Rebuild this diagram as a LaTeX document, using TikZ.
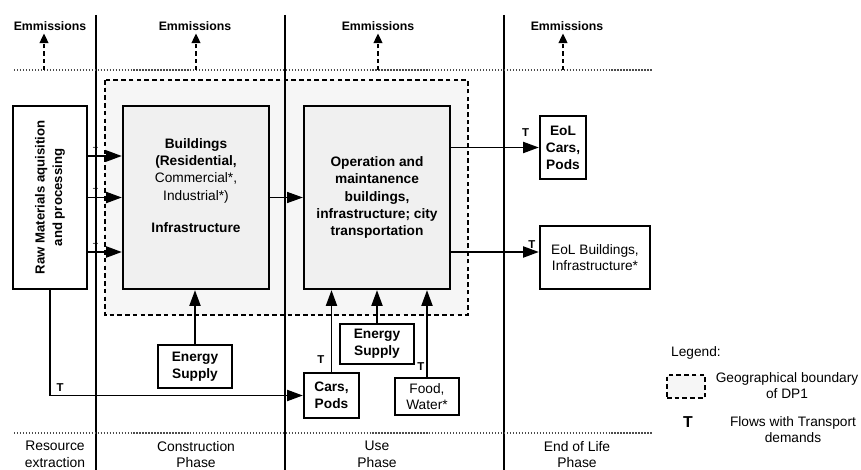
\documentclass[tikz,border=0pt]{standalone}
\usepackage{fontspec}
\setmainfont{Liberation Sans}
\usetikzlibrary{arrows.meta}

\begin{document}
\begin{tikzpicture}[x=0.2mm,y=-0.2mm,
        box/.style={draw,line width=1.3pt,align=center,inner sep=1pt,font=\bfseries\fontsize{7.8}{9.7}\selectfont},
        grbox/.style={box,fill=gray!12},
        flow/.style={-{Triangle[length=9pt,width=6.3pt]},line width=1.1pt},
        emis/.style={-{Triangle[length=5.5pt,width=5pt]},line width=1.1pt,dash pattern=on 2.4pt off 1.7pt},
        tlab/.style={font=\bfseries\fontsize{6.5}{6.5}\selectfont,inner sep=0.5pt},
        txt/.style={align=center,font=\fontsize{7.9}{9.4}\selectfont}]
        \useasboundingbox (0,0) rectangle (861,470);
        %geographical boundary
        \draw [dashed,dash pattern=on 2.6pt off 1.8pt,line width=0.7pt,fill=gray!7](105,80) rectangle (468,315);
        %phases
        \draw [line width=0.8pt](96,15) -- (96,470);
        \draw [line width=0.8pt](285,15) -- (285,470);
        \draw [line width=0.8pt](504,15) -- (504,470);
        \draw [densely dotted,gray!60!black,line width=0.7pt](14,70) -- (652,70);
        \draw [densely dotted,gray!60!black,line width=0.7pt](14,433) -- (652,433);
        \node[txt] (ph1) at (55,454.5) {Resource\\extraction};
        \node[txt] (ph2) at (196,454.5) {Construction\\Phase};
        \node[txt] (ph3) at (377,454.5) {Use\\Phase};
        \node[txt] (ph4) at (577,454.5) {End of Life\\Phase};
        %emissions
        \foreach \tx/\ax [count=\i] in {50/44,195/196,378/378,567/563}{
            \node[font=\bfseries\fontsize{7}{8}\selectfont,inner sep=1.5pt] (em\i) at (\tx,26) {Emmissions};
            \draw[emis] (\ax,70) -- (\ax,0 |- em\i.south);
        }
        %raw materials
        \node[box,rotate=90,minimum width=36.6mm,minimum height=14.8mm,font=\bfseries\fontsize{7.5}{10}\selectfont] (raw) at (50,197.5) {Raw Materials aquisition\\and processing};
        %construction phase
        \node[grbox,minimum width=29.2mm,minimum height=36.6mm] (bld) at (196,197.5) {};
        \node[txt,font=\fontsize{7.8}{9.7}\selectfont] (bldtxt) at (196,186) {\textbf{Buildings}\\\textbf{(Residential,}\\Commercial*,\\Industrial*)\\[9pt]\textbf{Infrastructure}};
        \node[box,minimum width=14.8mm,minimum height=8.6mm] (esup1) at (195,366.5) {Energy\\Supply};
        %use phase
        \node[grbox,minimum width=29.2mm,minimum height=36.6mm] (op) at (377,197.5) {Operation and\\maintanence\\buildings,\\infrastructure; city\\transportation};
        \node[box,minimum width=14.8mm,minimum height=8mm] (esup2) at (377,344) {Energy\\Supply};
        \node[box,minimum width=11mm,minimum height=9mm] (cars) at (331.5,395.5) {Cars,\\Pods};
        \node[box,font=\fontsize{7.8}{9.2}\selectfont,minimum width=12.8mm,minimum height=7.4mm] (food) at (427,396.5) {Food,\\Water*};
        %end of life
        \node[box,minimum width=9.2mm,minimum height=12.6mm] (eolc) at (563,147.5) {EoL\\Cars,\\Pods};
        \node[box,font=\fontsize{7.8}{9.2}\selectfont,minimum width=22mm,minimum height=12.6mm] (eolb) at (595,257.5) {EoL Buildings,\\Infrastructure*};
        %flows
        \foreach \yy in {156,197.5,252}
            \draw[flow] (raw.south |- 0,\yy) -- (bld.west |- 0,\yy) node[tlab,font=\fontsize{5}{5}\selectfont,pos=0.22,above=0.5pt]{T};
        \draw[flow,line width=0.7pt] (bld.east) -- (op.west);
        \draw[flow] (esup1.north) -- (esup1.north |- bld.south);
        \draw[flow] (raw.west) |- (cars.west) node[tlab,pos=0.52,above=1pt]{T};
        \draw[flow] (cars.north) -- (cars.north |- op.south) node[tlab,pos=0.15,left=3pt]{T};
        \draw[flow] (esup2.north) -- (esup2.north |- op.south);
        \draw[flow] (food.north) -- (food.north |- op.south) node[tlab,pos=0.12,left=0.5pt]{T};
        \draw[flow] (op.east |- eolc.west) -- (eolc.west) node[tlab,pos=0.85,above=5pt]{T};
        \draw[flow] (op.east |- 0,252) -- (eolb.west |- 0,252) node[tlab,pos=0.92,above=1pt]{T};
        %legend
        \node[anchor=west,font=\fontsize{7.8}{9}\selectfont] (leg) at (665,353) {Legend:};
        \node[draw,dashed,dash pattern=on 2.6pt off 1.8pt,line width=0.7pt,fill=gray!7,minimum width=7.6mm,minimum height=4.6mm] (legbox) at (686,386.5) {};
        \node[txt,font=\fontsize{7.8}{9.1}\selectfont] (legbnd) at (787,386) {Geographical boundary\\of DP1};
        \node[font=\bfseries\fontsize{9}{9}\selectfont] (legt) at (688,422) {T};
        \node[txt,font=\fontsize{7.8}{9.1}\selectfont] (legtr) at (793,430) {Flows with Transport\\demands};
    \end{tikzpicture}
\end{document}
